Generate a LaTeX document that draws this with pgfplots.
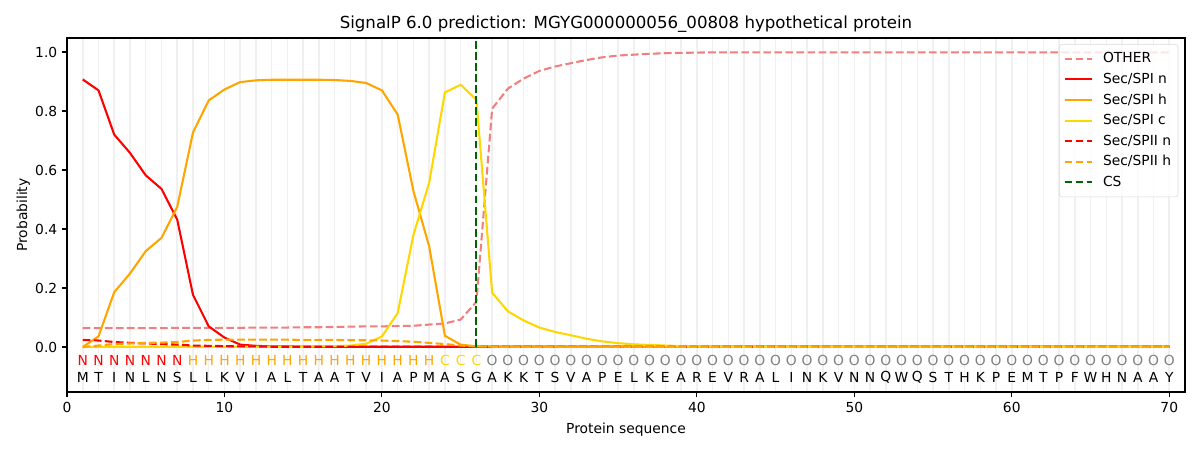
\documentclass[border=0pt]{standalone}
\usepackage{fontspec}
\setmainfont{DejaVu Sans}
\usepackage{pgfplots}
\usepackage{pgfplotstable}
\pgfplotsset{compat=1.18}
\definecolor{lcoral}{HTML}{F08080}
\definecolor{mporange}{HTML}{FFA500}
\definecolor{mpgold}{HTML}{FFD700}
\definecolor{mpgreen}{HTML}{006400}
\definecolor{mpgray}{HTML}{808080}
\pgfplotstableread{
x other spin spih spic spiin spiih
1 0.064 0.907 0.000 0.000 0.024 0.000
2 0.064 0.870 0.036 0.001 0.022 0.005
3 0.064 0.720 0.186 0.001 0.017 0.010
4 0.064 0.658 0.249 0.001 0.014 0.012
5 0.064 0.582 0.325 0.001 0.012 0.014
6 0.064 0.536 0.370 0.001 0.010 0.015
7 0.065 0.432 0.475 0.001 0.008 0.017
8 0.065 0.177 0.727 0.001 0.005 0.022
9 0.065 0.070 0.836 0.001 0.004 0.024
10 0.065 0.032 0.873 0.001 0.003 0.025
11 0.065 0.008 0.898 0.001 0.002 0.025
12 0.066 0.004 0.904 0.001 0.002 0.025
13 0.066 0.002 0.906 0.001 0.001 0.025
14 0.066 0.002 0.906 0.001 0.001 0.025
15 0.067 0.001 0.906 0.001 0.001 0.024
16 0.067 0.001 0.906 0.002 0.001 0.024
17 0.068 0.001 0.905 0.003 0.001 0.024
18 0.069 0.001 0.902 0.005 0.001 0.023
19 0.070 0.001 0.895 0.011 0.001 0.023
20 0.070 0.001 0.870 0.036 0.001 0.022
21 0.071 0.001 0.788 0.115 0.001 0.020
22 0.072 0.001 0.529 0.380 0.001 0.018
23 0.076 0.001 0.341 0.557 0.001 0.014
24 0.080 0.001 0.038 0.863 0.001 0.010
25 0.093 0.001 0.008 0.889 0.001 0.005
26 0.153 0.001 0.002 0.838 0.001 0.002
27 0.808 0.001 0.001 0.184 0.001 0.001
28 0.876 0.001 0.001 0.121 0.001 0.001
29 0.910 0.001 0.001 0.090 0.001 0.001
30 0.936 0.001 0.001 0.066 0.001 0.001
31 0.951 0.001 0.001 0.051 0.001 0.001
32 0.962 0.001 0.001 0.040 0.001 0.001
33 0.973 0.001 0.001 0.028 0.001 0.001
34 0.982 0.001 0.001 0.019 0.001 0.001
35 0.988 0.001 0.001 0.013 0.001 0.001
36 0.991 0.001 0.001 0.009 0.001 0.001
37 0.994 0.001 0.001 0.007 0.001 0.001
38 0.996 0.001 0.001 0.005 0.001 0.001
39 0.997 0.001 0.001 0.003 0.001 0.001
40 0.998 0.001 0.001 0.002 0.001 0.001
41 0.999 0.001 0.001 0.002 0.001 0.001
42 0.999 0.001 0.001 0.001 0.001 0.001
43 0.999 0.001 0.001 0.001 0.001 0.001
44 0.999 0.001 0.001 0.001 0.001 0.001
45 0.999 0.001 0.001 0.001 0.001 0.001
46 0.999 0.001 0.001 0.001 0.001 0.001
47 0.999 0.001 0.001 0.001 0.001 0.001
48 0.999 0.001 0.001 0.001 0.001 0.001
49 0.999 0.001 0.001 0.001 0.001 0.001
50 0.999 0.001 0.001 0.001 0.001 0.001
51 0.999 0.001 0.001 0.001 0.001 0.001
52 0.999 0.001 0.001 0.001 0.001 0.001
53 0.999 0.001 0.001 0.001 0.001 0.001
54 0.999 0.001 0.001 0.001 0.001 0.001
55 0.999 0.001 0.001 0.001 0.001 0.001
56 0.999 0.001 0.001 0.001 0.001 0.001
57 0.999 0.001 0.001 0.001 0.001 0.001
58 0.999 0.001 0.001 0.001 0.001 0.001
59 0.999 0.001 0.001 0.001 0.001 0.001
60 0.999 0.001 0.001 0.001 0.001 0.001
61 0.999 0.001 0.001 0.001 0.001 0.001
62 0.999 0.001 0.001 0.001 0.001 0.001
63 0.999 0.001 0.001 0.001 0.001 0.001
64 0.999 0.001 0.001 0.001 0.001 0.001
65 0.999 0.001 0.001 0.001 0.001 0.001
66 0.999 0.001 0.001 0.001 0.001 0.001
67 0.999 0.001 0.001 0.001 0.001 0.001
68 0.999 0.001 0.001 0.001 0.001 0.001
69 0.999 0.001 0.001 0.001 0.001 0.001
70 0.999 0.001 0.001 0.001 0.001 0.001
}\probs
\pgfplotstableread{
x y aa
1 -0.102 M
2 -0.102 T
3 -0.102 I
4 -0.102 N
5 -0.102 L
6 -0.102 N
7 -0.102 S
8 -0.102 L
9 -0.102 L
10 -0.102 K
11 -0.102 V
12 -0.102 I
13 -0.102 A
14 -0.102 L
15 -0.102 T
16 -0.102 A
17 -0.102 A
18 -0.102 T
19 -0.102 V
20 -0.102 I
21 -0.102 A
22 -0.102 P
23 -0.102 M
24 -0.102 A
25 -0.102 S
26 -0.102 G
27 -0.102 A
28 -0.102 K
29 -0.102 K
30 -0.102 T
31 -0.102 S
32 -0.102 V
33 -0.102 A
34 -0.102 P
35 -0.102 E
36 -0.102 L
37 -0.102 K
38 -0.102 E
39 -0.102 A
40 -0.102 R
41 -0.102 E
42 -0.102 V
43 -0.102 R
44 -0.102 A
45 -0.102 L
46 -0.102 I
47 -0.102 N
48 -0.102 K
49 -0.102 V
50 -0.102 N
51 -0.102 N
52 -0.102 Q
53 -0.102 W
54 -0.102 Q
55 -0.102 S
56 -0.102 T
57 -0.102 H
58 -0.102 K
59 -0.102 P
60 -0.102 E
61 -0.102 M
62 -0.102 T
63 -0.102 P
64 -0.102 F
65 -0.102 W
66 -0.102 H
67 -0.102 N
68 -0.102 A
69 -0.102 A
70 -0.102 Y
}\seq
\begin{document}
\begin{tikzpicture}
\path[use as bounding box] (-48.24bp,-41.76bp) rectangle (815.76bp,282.24bp);
\begin{axis}[
  at={(0,0)}, anchor=south west,
  scale only axis, width=804.96bp, height=254.88bp,
  xmin=0, xmax=71, ymin=-0.1525, ymax=1.0475,
  xtick={0,10,...,70}, ytick={0,0.2,...,1.0},
  minor xtick={1,...,70},
  xminorgrids, minor grid style={draw=black!6, line width=1.1bp},
  minor tick length=0pt,
  major tick length=3.5bp, tick align=outside,
  xtick pos=left, ytick pos=left,
  tick style={black, line width=0.8bp},
  axis line style={line width=0.8bp},
  yticklabel style={/pgf/number format/.cd, fixed, fixed zerofill, precision=1},
  /pgf/number format/assume math mode=true,
  ticklabel style={font=\fontsize{10}{12}\selectfont},
  xlabel={Protein sequence}, ylabel={Probability},
  label style={font=\fontsize{10}{12}\selectfont},
  xlabel style={yshift=-0.6bp},
  ylabel style={yshift=-3bp},
  title={SignalP 6.0 prediction: MGYG000000056\_00808 hypothetical protein},
  title style={font=\fontsize{12}{14}\selectfont, yshift=-5.6bp},
  legend style={at={(0.994,0.983)}, anchor=north east, draw=black!15, rounded corners=2bp,
    fill=white, fill opacity=0.8, text opacity=1, font=\fontsize{10}{12}\selectfont,
    inner xsep=3bp, inner ysep=4bp, row sep=1.9bp,
    /tikz/every odd column/.append style={column sep=5bp}},
  legend cell align=left,
  legend image code/.code={\draw[#1] (0bp,0bp) -- (20bp,0bp);},
]
\addplot[lcoral, line width=1.5bp, dash pattern=on 5.55bp off 2.4bp] table[x=x,y=other] {\probs};
\addlegendentry{OTHER}
\addplot[red, line width=1.5bp] table[x=x,y=spin] {\probs};
\addlegendentry{Sec/SPI n}
\addplot[mporange, line width=1.5bp] table[x=x,y=spih] {\probs};
\addlegendentry{Sec/SPI h}
\addplot[mpgold, line width=1.5bp] table[x=x,y=spic] {\probs};
\addlegendentry{Sec/SPI c}
\addplot[red, line width=1.5bp, dash pattern=on 5.55bp off 2.4bp] table[x=x,y=spiin] {\probs};
\addlegendentry{Sec/SPII n}
\addplot[mporange, line width=1.5bp, dash pattern=on 5.55bp off 2.4bp] table[x=x,y=spiih] {\probs};
\addlegendentry{Sec/SPII h}
\addplot[mpgreen, line width=1.5bp, dash pattern=on 5.55bp off 2.4bp] coordinates {(26,0) (26,1.0475)};
\addlegendentry{CS}
% sequence
\addplot[forget plot, draw=none, mark=none, nodes near coords, point meta=explicit symbolic,
  every node near coord/.style={anchor=center, inner sep=0pt, text=black, font=\fontsize{10}{12}\selectfont}]
  table[x=x, y=y, meta=aa] {\seq};
% region labels
\addplot[forget plot, draw=none, mark=none, nodes near coords, point meta=explicit symbolic,
  every node near coord/.style={anchor=center, inner sep=0pt, text=red, font=\fontsize{10}{12}\selectfont}]
  coordinates {(1,-0.047)[N] (2,-0.047)[N] (3,-0.047)[N] (4,-0.047)[N] (5,-0.047)[N] (6,-0.047)[N] (7,-0.047)[N]};
\addplot[forget plot, draw=none, mark=none, nodes near coords, point meta=explicit symbolic,
  every node near coord/.style={anchor=center, inner sep=0pt, text=mporange, font=\fontsize{10}{12}\selectfont}]
  coordinates {(8,-0.047)[H] (9,-0.047)[H] (10,-0.047)[H] (11,-0.047)[H] (12,-0.047)[H] (13,-0.047)[H] (14,-0.047)[H] (15,-0.047)[H] (16,-0.047)[H] (17,-0.047)[H] (18,-0.047)[H] (19,-0.047)[H] (20,-0.047)[H] (21,-0.047)[H] (22,-0.047)[H] (23,-0.047)[H]};
\addplot[forget plot, draw=none, mark=none, nodes near coords, point meta=explicit symbolic,
  every node near coord/.style={anchor=center, inner sep=0pt, text=mpgold, font=\fontsize{10}{12}\selectfont}]
  coordinates {(24,-0.047)[C] (25,-0.047)[C] (26,-0.047)[C]};
\addplot[forget plot, draw=none, mark=none, nodes near coords, point meta=explicit symbolic,
  every node near coord/.style={anchor=center, inner sep=0pt, text=mpgray, font=\fontsize{10}{12}\selectfont}]
  coordinates {(27,-0.047)[O] (28,-0.047)[O] (29,-0.047)[O] (30,-0.047)[O] (31,-0.047)[O] (32,-0.047)[O] (33,-0.047)[O] (34,-0.047)[O] (35,-0.047)[O] (36,-0.047)[O] (37,-0.047)[O] (38,-0.047)[O] (39,-0.047)[O] (40,-0.047)[O] (41,-0.047)[O] (42,-0.047)[O] (43,-0.047)[O] (44,-0.047)[O] (45,-0.047)[O] (46,-0.047)[O] (47,-0.047)[O] (48,-0.047)[O] (49,-0.047)[O] (50,-0.047)[O] (51,-0.047)[O] (52,-0.047)[O] (53,-0.047)[O] (54,-0.047)[O] (55,-0.047)[O] (56,-0.047)[O] (57,-0.047)[O] (58,-0.047)[O] (59,-0.047)[O] (60,-0.047)[O] (61,-0.047)[O] (62,-0.047)[O] (63,-0.047)[O] (64,-0.047)[O] (65,-0.047)[O] (66,-0.047)[O] (67,-0.047)[O] (68,-0.047)[O] (69,-0.047)[O] (70,-0.047)[O]};
\end{axis}
\end{tikzpicture}
\end{document}
